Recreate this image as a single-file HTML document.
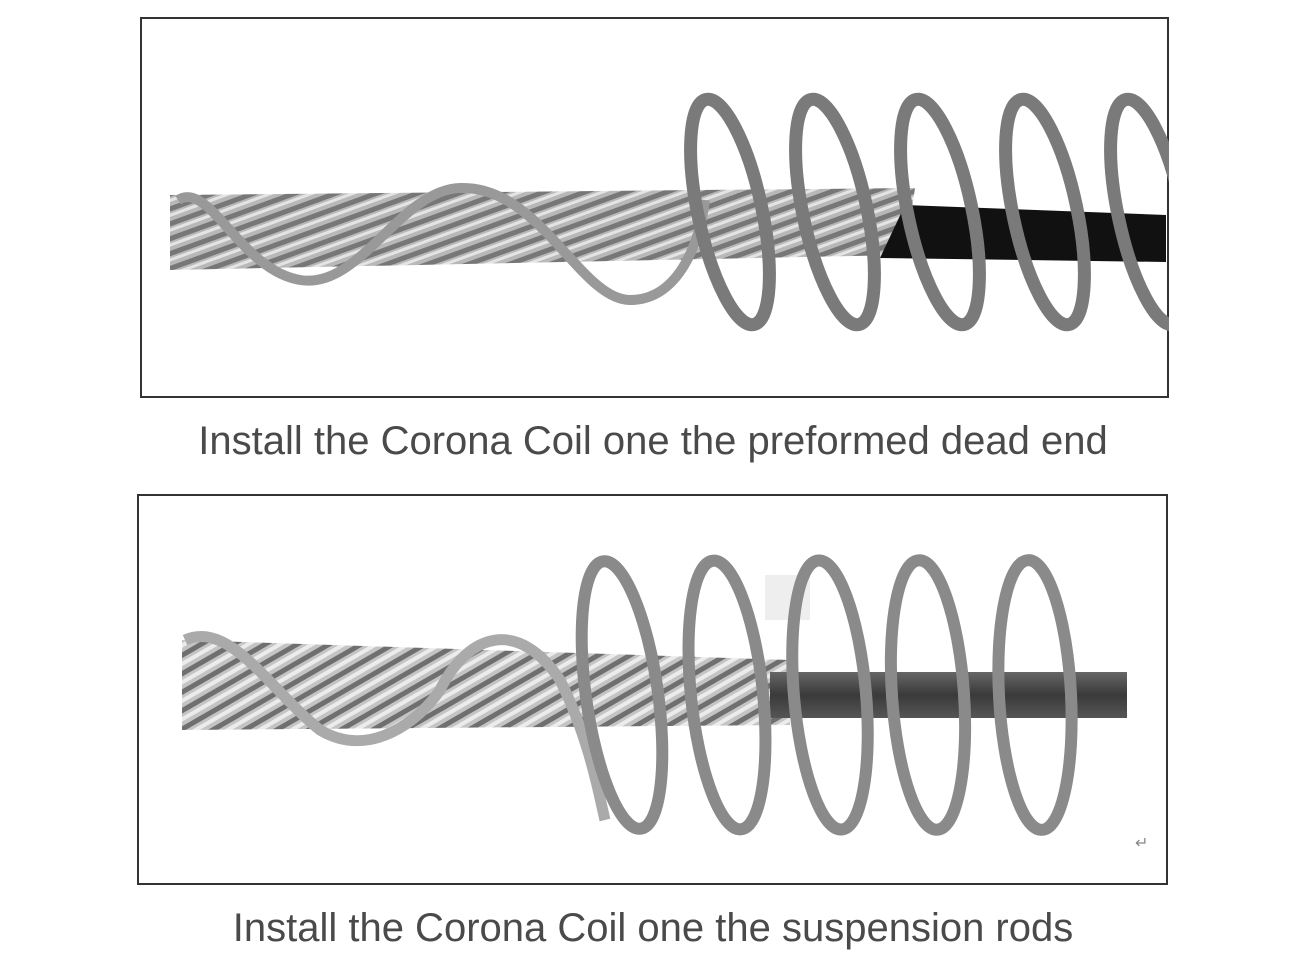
<!DOCTYPE html>
<html><head><meta charset="utf-8"><style>
html,body{margin:0;padding:0;background:#fff;}
body{width:1306px;height:964px;position:relative;overflow:hidden;font-family:"Liberation Sans",Arial,sans-serif;}
.cap{position:absolute;left:0;width:1306px;text-align:center;font-size:40px;color:#4a4a4a;}
</style></head><body>
<svg width="1306" height="964" style="position:absolute;left:0;top:0">
<defs>
<pattern id="str" width="14" height="14" patternUnits="userSpaceOnUse" patternTransform="rotate(-20)">
<rect width="14" height="14" fill="#b8b8b8"/><rect width="14" height="5" fill="#777"/><rect y="7" width="14" height="3" fill="#e4e4e4"/>
</pattern>
<pattern id="str2" width="16" height="16" patternUnits="userSpaceOnUse" patternTransform="rotate(-30)">
<rect width="16" height="16" fill="#c4c4c4"/><rect width="16" height="5" fill="#6f6f6f"/><rect y="8" width="16" height="4" fill="#ececec"/>
</pattern>
<linearGradient id="dk" x1="0" y1="0" x2="0" y2="1"><stop offset="0" stop-color="#666"/><stop offset=".5" stop-color="#3a3a3a"/><stop offset="1" stop-color="#555"/></linearGradient>
</defs>
<rect x="141" y="18" width="1027" height="379" fill="#fff" stroke="#333" stroke-width="2"/>
<rect x="138" y="495" width="1029" height="389" fill="#fff" stroke="#333" stroke-width="2"/>
<path d="M170 195 L915 188 L905 255 L170 270 Z" fill="url(#str)"/>
<path d="M905 205 L1166 215 L1166 262 L880 258 Z" fill="#111"/>
<path d="M178 200 C210 180 240 270 300 280 C360 290 400 190 460 188 C540 185 580 300 630 300 C680 300 700 240 705 200" fill="none" stroke="#999" stroke-width="10"/>
<g fill="none" stroke-width="13" stroke="#7a7a7a">
<ellipse cx="730" cy="212" rx="32" ry="115" transform="rotate(-12 730 212)"/>
<ellipse cx="835" cy="212" rx="32" ry="115" transform="rotate(-12 835 212)"/>
<ellipse cx="940" cy="212" rx="32" ry="115" transform="rotate(-12 940 212)"/>
<ellipse cx="1045" cy="212" rx="32" ry="115" transform="rotate(-12 1045 212)"/>
<ellipse cx="1150" cy="212" rx="32" ry="115" transform="rotate(-12 1150 212)"/>
</g>
<rect x="1169" y="90" width="40" height="250" fill="#fff"/>
<path d="M182 640 L790 660 L790 725 L182 730 Z" fill="url(#str2)"/>
<path d="M770 672 L1127 672 L1127 718 L770 718 Z" fill="url(#dk)"/>
<rect x="765" y="575" width="45" height="45" fill="#eee"/>
<path d="M185 640 C230 620 270 690 320 730 C370 760 420 720 440 690 C470 630 520 620 560 680 C590 740 600 800 605 820" fill="none" stroke="#aaa" stroke-width="11"/>
<g fill="none" stroke-width="12" stroke="#8a8a8a">
<ellipse cx="622" cy="695" rx="36" ry="135" transform="rotate(-8 622 695)"/>
<ellipse cx="727" cy="695" rx="36" ry="135" transform="rotate(-6 727 695)"/>
<ellipse cx="830" cy="695" rx="36" ry="135" transform="rotate(-5 830 695)"/>
<ellipse cx="928" cy="695" rx="36" ry="135" transform="rotate(-4 928 695)"/>
<ellipse cx="1035" cy="695" rx="36" ry="135" transform="rotate(-3 1035 695)"/>
</g>
<text x="1135" y="848" font-size="16" fill="#888">↵</text>
</svg>
<div class="cap" style="top:419px">Install the Corona Coil one the preformed dead end</div>
<div class="cap" style="top:906px">Install the Corona Coil one the suspension rods</div>
</body></html>
